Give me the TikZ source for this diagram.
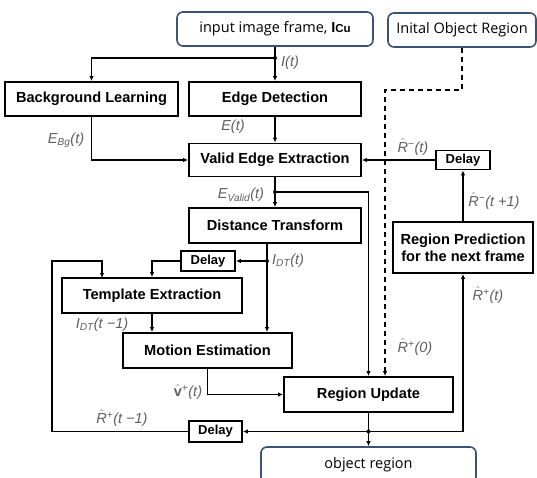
\documentclass[tikz,border=0pt]{standalone}
\usepackage{fontspec}
\setmainfont{Liberation Sans}
\newfontfamily\rfont{Open Sans}
\usetikzlibrary{arrows.meta}
\definecolor{rbord}{RGB}{58,82,118}
\definecolor{labc}{RGB}{95,95,95}
\newcommand\Rh{$\hat{\mbox{R}}$}
\newcommand\Vh{$\hat{\mbox{\bfseries\upshape v}}$}
\begin{document}
\begin{tikzpicture}[x=1pt,y=-1pt,
  blk/.style={draw, line width=1.8pt, font=\fontsize{14.6}{17}\selectfont\bfseries, inner sep=0pt, align=center},
  dly/.style={draw, line width=1.8pt, font=\fontsize{13}{15}\selectfont\bfseries, inner sep=0pt},
  rbox/.style={draw=rbord, line width=1.6pt, rounded corners=6pt, font=\rfont\fontsize{14.5}{16}\selectfont, inner sep=0pt},
  con/.style={line width=1.3pt, -{Latex[length=5pt,width=4.5pt]}},
  lbl/.style={text=labc, font=\fontsize{14.5}{16}\selectfont\itshape, inner sep=0pt},
  dot/.style={circle, fill, inner sep=0pt, minimum size=4pt}]
\clip (0,0) rectangle (537,478);
% nodes
\node[rbox, minimum width=196pt, minimum height=34pt] (inp) at (275,29) {input image frame, {\fontspec{Liberation Sans}\bfseries I\fontsize{11.5}{12}\selectfont Cu}};
\node[rbox, minimum width=148pt, minimum height=34pt] (init) at (462,30) {Inital Object Region};
\node[blk, minimum width=173pt, minimum height=34pt] (bg) at (91.5,99) {Background Learning};
\node[blk, minimum width=172pt, minimum height=34pt] (ed) at (275,99) {Edge Detection};
\node[blk, minimum width=172pt, minimum height=33pt] (ve) at (275,160) {Valid Edge Extraction};
\node[dly, minimum width=54pt, minimum height=19pt] (d1) at (463,160) {Delay};
\node[blk, minimum width=172pt, minimum height=35pt] (dt) at (275,225.5) {Distance Transform};
\node[dly, minimum width=54pt, minimum height=20pt] (d2) at (208,261) {Delay};
\node[blk, minimum width=180pt, minimum height=35pt] (te) at (152,295.5) {Template Extraction};
\node[blk, minimum width=169pt, minimum height=35pt] (me) at (207.5,350.5) {Motion Estimation};
\node[blk, minimum width=169pt, minimum height=35pt] (ru) at (368.5,394.5) {Region Update};
\node[dly, minimum width=53pt, minimum height=21pt] (d3) at (215.5,431.5) {Delay};
\node[blk, minimum width=140pt, minimum height=51pt] (rp) at (463,247.5) {Region Prediction\\for the next frame};
\node[rbox, minimum width=215pt, minimum height=36pt] (obj) at (368.5,465) {object region};
% coordinates
\coordinate (j1) at (275,58);
\coordinate (j2) at (275,192);
\coordinate (dtout) at (267,243);
\coordinate (j3) at (267,261);
\coordinate (j4) at (368.5,431.5);
\coordinate (k2) at (385,90);
\coordinate (f1) at (52,431.5);
\coordinate (f2) at (52,261);
\coordinate (tein) at (102,278);
% connectors
\draw[con] (inp.south) -- (ed.north);
\draw[con] (j1) -| (bg.north);
\draw[con] (ed.south) -- (ve.north);
\draw[con] (bg.south) |- (ve.west);
\draw[con] (d1.west) -- (ve.east);
\draw[con] (ve.south) -- (dt.north);
\draw[con] (j2) -| (ru.north);
\draw[con, dash pattern=on 5pt off 4pt] (init.south) |- (k2) -- (k2 |- ru.north);
\draw[con] (dtout) -- (dtout |- me.north);
\draw[con] (j3) -- (d2.east);
\draw[con] (d2.west) -| (te.north);
\draw[con] (te.south) -- (te.south |- me.north);
\draw[con] (me.south) |- (ru.west);
\draw[con] (ru.south) -- (obj.north);
\draw[con] (j4) -- (d3.east);
\draw[con] (j4) -| (rp.south);
\draw[con] (rp.north) -- (d1.south);
\draw[con] (d3.west) -- (f1) -- (f2) -| (tein);
\node[dot] at (j1) {};
\node[dot] at (j2) {};
\node[dot] at (j3) {};
\node[dot] at (j4) {};
% labels
\node[lbl, anchor=west] at (281,63) {I(t)};
\node[lbl] at (233,127) {E(t)};
\node[lbl] at (66,140) {E\textsubscript{Bg}(t)};
\node[lbl] at (413,147) {\Rh\textsuperscript{−}(t)};
\node[lbl] at (241,195) {E\textsubscript{Valid}(t)};
\node[lbl, anchor=west] at (272,261) {I\textsubscript{DT}(t)};
\node[lbl] at (494,201) {\Rh\textsuperscript{−}(t +1)};
\node[lbl] at (488,295) {\Rh\textsuperscript{+}(t)};
\node[lbl] at (102,325) {I\textsubscript{DT}(t −1)};
\node[lbl] at (188,392) {\Vh\textsuperscript{+}(t)};
\node[lbl] at (122,418) {\Rh\textsuperscript{+}(t −1)};
\node[lbl] at (415,347) {\Rh\textsuperscript{+}(0)};
\end{tikzpicture}
\end{document}
